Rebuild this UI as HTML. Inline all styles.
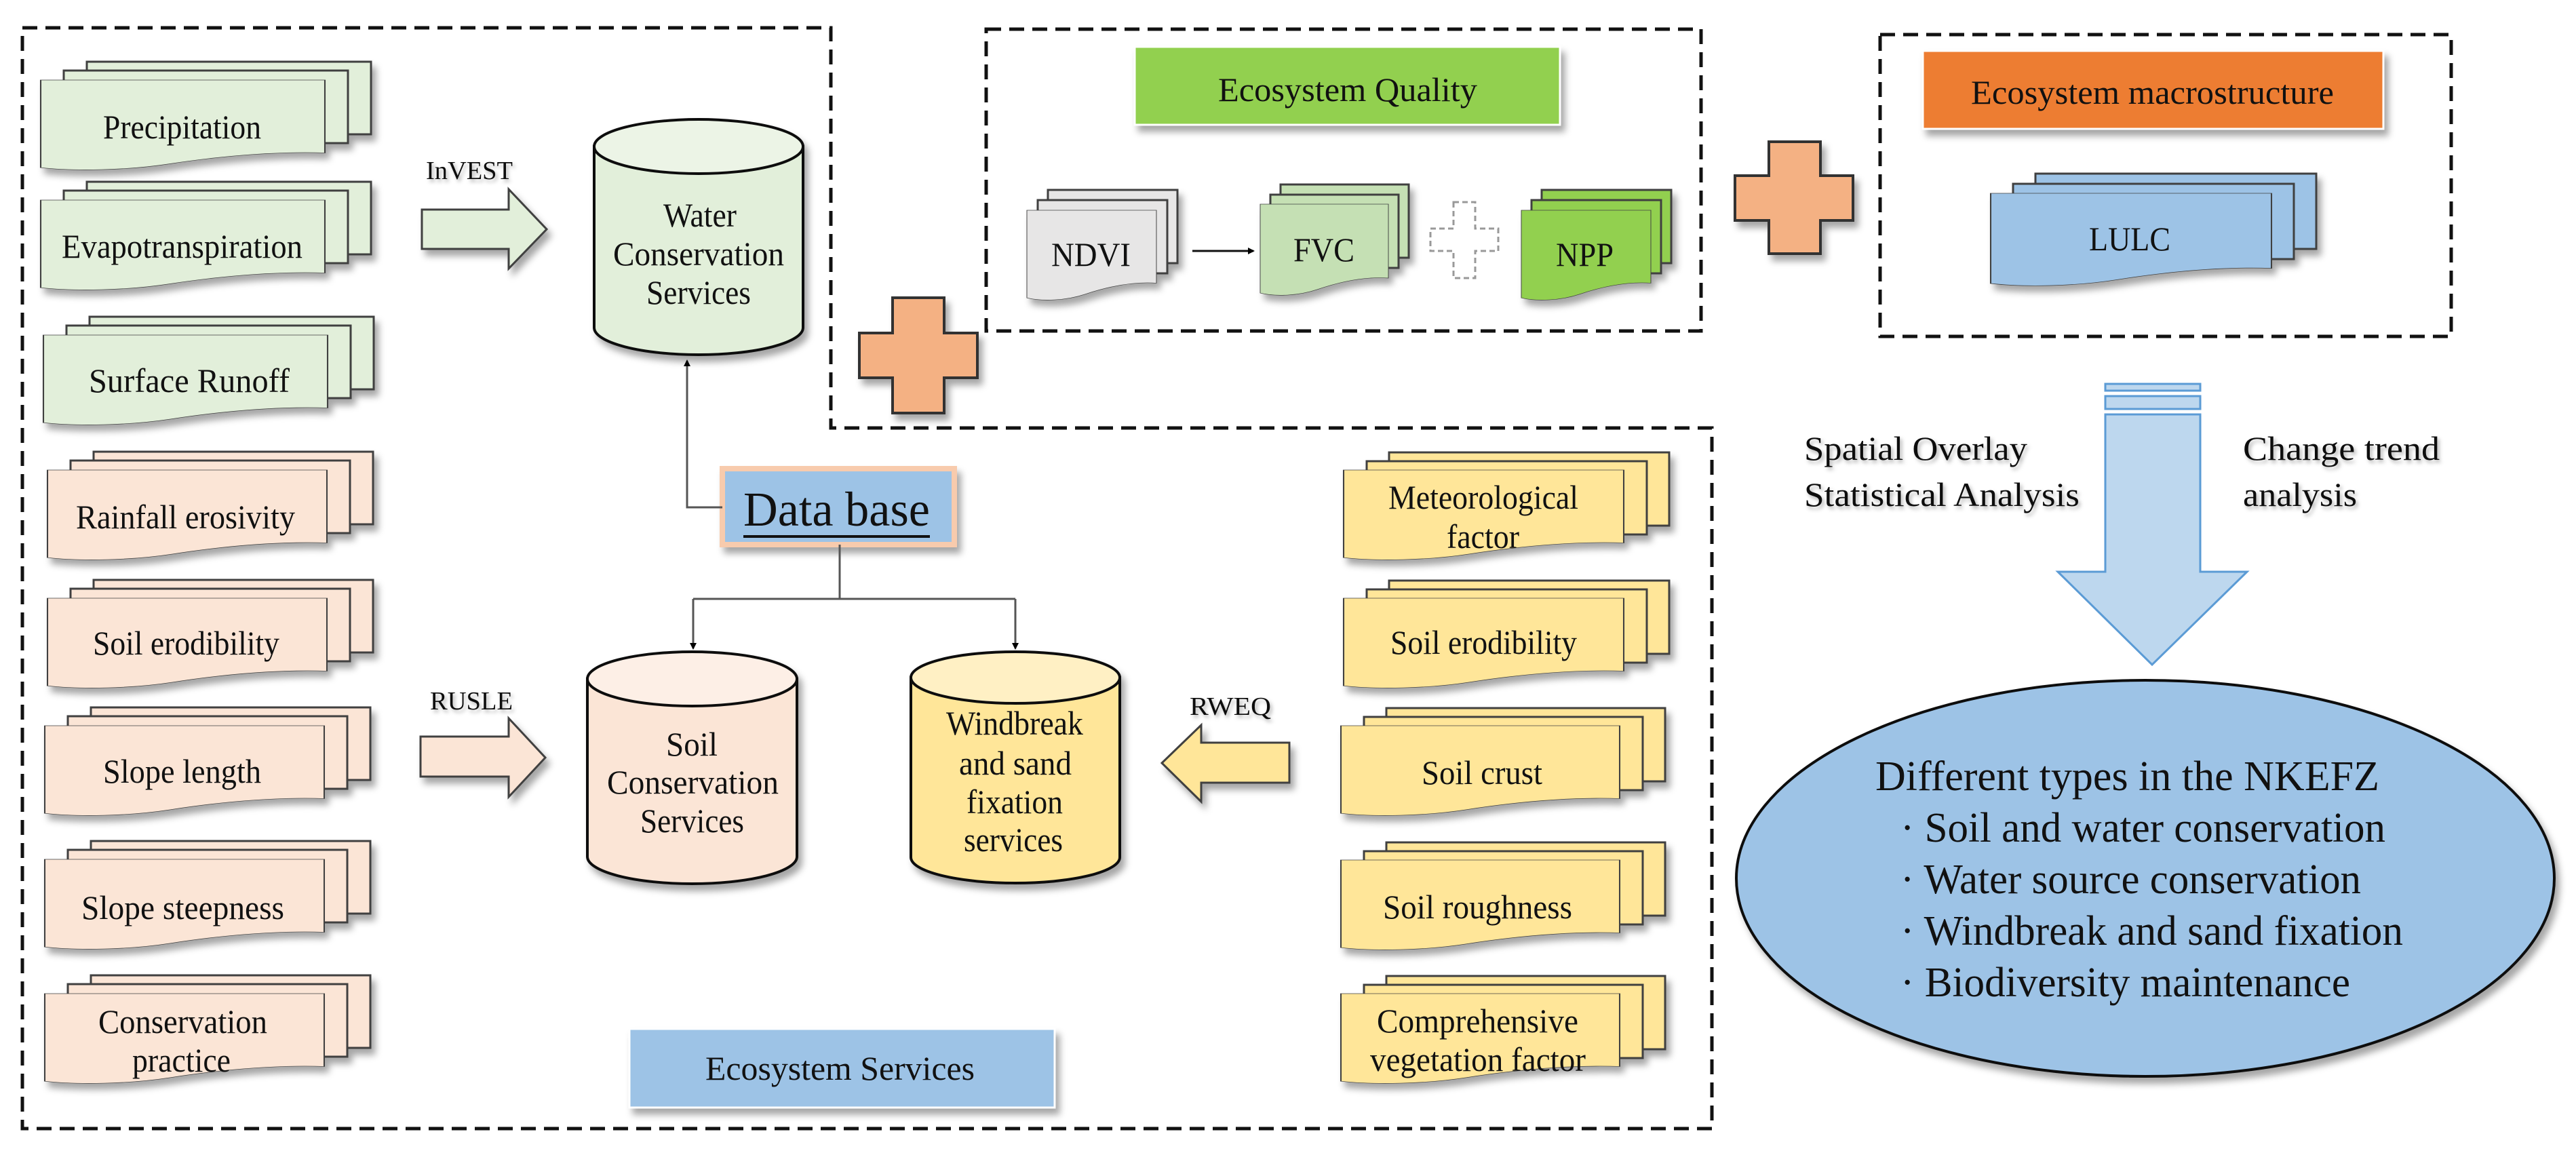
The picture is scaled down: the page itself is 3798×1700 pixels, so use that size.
<!DOCTYPE html>
<html><head><meta charset="utf-8"><style>
html,body{margin:0;padding:0;background:#fff}
svg{display:block}
text{font-family:"Liberation Serif","DejaVu Serif",serif;fill:#111}
</style></head><body>
<svg width="3798" height="1700" viewBox="0 0 3798 1700" xmlns="http://www.w3.org/2000/svg" font-family="'Liberation Serif','DejaVu Serif',serif">
<defs>
<filter id="sh" x="-10%" y="-10%" width="130%" height="140%"><feDropShadow dx="6" dy="9" stdDeviation="5" flood-color="#000" flood-opacity="0.35"/></filter>
<filter id="ts" x="-5%" y="-20%" width="115%" height="150%"><feDropShadow dx="3" dy="4" stdDeviation="3" flood-color="#000" flood-opacity="0.3"/></filter>
<marker id="ah" markerWidth="10" markerHeight="10" refX="8" refY="5" orient="auto" markerUnits="userSpaceOnUse" viewBox="0 0 10 10"><path d="M0,0 L10,5 L0,10 Z" fill="#000"/></marker>
<path id="doc" d="M0,0 H100 V79 C80,77 60,84 45,91 C30,98 12,99 0,95 Z"/>
</defs>

<g fill="none" stroke="#111" stroke-width="5" stroke-dasharray="22 12">
<path d="M33,41 H1225 V631 H2524 V1664 H33 Z"/>
<rect x="1454" y="43" width="1054" height="445"/>
<rect x="2772" y="51" width="842" height="445"/>
</g>

<g stroke="#404040" stroke-width="3" filter="url(#sh)">
<g fill="#e2efda">
<g transform="translate(60,118)"><rect x="68" y="-27" width="419" height="107"/><rect x="34" y="-14" width="419" height="107"/><use href="#doc" transform="scale(4.19,1.36)" stroke-width="0.5"/></g>
<g transform="translate(60,295)"><rect x="68" y="-27" width="419" height="107"/><rect x="34" y="-14" width="419" height="107"/><use href="#doc" transform="scale(4.19,1.36)" stroke-width="0.5"/></g>
<g transform="translate(64,494)"><rect x="68" y="-27" width="419" height="107"/><rect x="34" y="-14" width="419" height="107"/><use href="#doc" transform="scale(4.19,1.36)" stroke-width="0.5"/></g>
</g>
<g fill="#fbe5d6">
<g transform="translate(70,693)"><rect x="68" y="-27" width="412" height="107"/><rect x="34" y="-14" width="412" height="107"/><use href="#doc" transform="scale(4.12,1.36)" stroke-width="0.5"/></g>
<g transform="translate(70,882)"><rect x="68" y="-27" width="412" height="107"/><rect x="34" y="-14" width="412" height="107"/><use href="#doc" transform="scale(4.12,1.36)" stroke-width="0.5"/></g>
<g transform="translate(66,1070)"><rect x="68" y="-27" width="412" height="107"/><rect x="34" y="-14" width="412" height="107"/><use href="#doc" transform="scale(4.12,1.36)" stroke-width="0.5"/></g>
<g transform="translate(66,1267)"><rect x="68" y="-27" width="412" height="107"/><rect x="34" y="-14" width="412" height="107"/><use href="#doc" transform="scale(4.12,1.36)" stroke-width="0.5"/></g>
<g transform="translate(66,1465)"><rect x="68" y="-27" width="412" height="107"/><rect x="34" y="-14" width="412" height="107"/><use href="#doc" transform="scale(4.12,1.36)" stroke-width="0.5"/></g>
</g>
<g fill="#ffe699">
<g transform="translate(1981,693)"><rect x="67" y="-26" width="413" height="108"/><rect x="34" y="-13" width="413" height="108"/><use href="#doc" transform="scale(4.13,1.36)" stroke-width="0.5"/></g>
<g transform="translate(1981,882)"><rect x="67" y="-26" width="413" height="108"/><rect x="34" y="-13" width="413" height="108"/><use href="#doc" transform="scale(4.13,1.36)" stroke-width="0.5"/></g>
<g transform="translate(1977,1070)"><rect x="67" y="-26" width="411" height="108"/><rect x="34" y="-13" width="411" height="108"/><use href="#doc" transform="scale(4.11,1.36)" stroke-width="0.5"/></g>
<g transform="translate(1977,1268)"><rect x="67" y="-26" width="411" height="108"/><rect x="34" y="-13" width="411" height="108"/><use href="#doc" transform="scale(4.11,1.36)" stroke-width="0.5"/></g>
<g transform="translate(1977,1465)"><rect x="67" y="-26" width="411" height="108"/><rect x="34" y="-13" width="411" height="108"/><use href="#doc" transform="scale(4.11,1.36)" stroke-width="0.5"/></g>
</g>
<g transform="translate(1514,310)" fill="#e7e6e6"><rect x="31" y="-30" width="191" height="108"/><rect x="16" y="-15" width="191" height="108"/><use href="#doc" transform="scale(1.91,1.36)" stroke-width="0.5"/></g>
<g transform="translate(1858,301)" fill="#c5e0b4"><rect x="30" y="-29" width="189" height="108"/><rect x="15" y="-14" width="189" height="108"/><use href="#doc" transform="scale(1.89,1.38)" stroke-width="0.5"/></g>
<g transform="translate(2243,310)" fill="#92d050"><rect x="30" y="-30" width="191" height="108"/><rect x="15" y="-15" width="191" height="108"/><use href="#doc" transform="scale(1.91,1.36)" stroke-width="0.5"/></g>
<g transform="translate(2935,285)" fill="#9dc3e6"><rect x="66" y="-29" width="414" height="111"/><rect x="33" y="-14" width="414" height="111"/><use href="#doc" transform="scale(4.14,1.40)" stroke-width="0.5"/></g>
</g>

<g filter="url(#sh)">
<rect x="1673" y="69" width="627" height="115" fill="#92d050" stroke="#fff" stroke-width="3"/>
<rect x="2835" y="75" width="679" height="115" fill="#ed7d31" stroke="#fff" stroke-width="3"/>
<rect x="928" y="1517" width="627" height="116" fill="#9dc3e6" stroke="#fff" stroke-width="3"/>
<rect x="1065" y="691" width="342" height="112" fill="#9dc3e6" stroke="#f8cbad" stroke-width="8"/>
</g>

<g fill="#f4b183" stroke="#333" stroke-width="4" filter="url(#sh)">
<path d="M1316,439 H1392 V491 H1441 V557 H1392 V609 H1316 V557 H1267 V491 H1316 Z"/>
<path d="M2608,209 H2684 V259 H2732 V325 H2684 V374 H2608 V325 H2558 V259 H2608 Z"/>
</g>
<path d="M2143,298 H2175 V337 H2209 V370 H2175 V410 H2143 V370 H2109 V337 H2143 Z" fill="#fff" stroke="#999" stroke-width="3" stroke-dasharray="8 5"/>

<g stroke="#404040" stroke-width="3" filter="url(#sh)">
<polygon points="622,309 750,309 750,279 806,338 750,396 750,367 622,367" fill="#e2efda"/>
<polygon points="620,1086 750,1086 750,1059 804,1117 750,1175 750,1145 620,1145" fill="#fbe5d6"/>
<polygon points="1901,1095 1771,1095 1771,1069 1713,1125 1771,1182 1771,1154 1901,1154" fill="#ffe699"/>
</g>
<g fill="#bdd7ee" stroke="#5b9bd5" stroke-width="3">
<rect x="3104" y="566" width="140" height="10"/>
<rect x="3104" y="584" width="140" height="19"/>
<polygon points="3104,611 3244,611 3244,843 3313,843 3173,980 3034,843 3104,843"/>
</g>

<g stroke="#111" stroke-width="4" filter="url(#sh)">
<path d="M876,216 V483 A154,40 0 0 0 1184,483 V216 Z" fill="#e2efda"/>
<ellipse cx="1030" cy="216" rx="154" ry="40" fill="#ecf4e6"/>
<path d="M866,1001 V1263 A154.5,40 0 0 0 1175,1263 V1001 Z" fill="#fbe5d6"/>
<ellipse cx="1020.5" cy="1001" rx="154.5" ry="40" fill="#fdefe6"/>
<path d="M1343,999 V1264 A154,38 0 0 0 1651,1264 V999 Z" fill="#ffe699"/>
<ellipse cx="1497" cy="999" rx="154" ry="38" fill="#fff0c4"/>
</g>

<ellipse cx="3163" cy="1295" rx="603" ry="292" fill="#9dc3e6" stroke="#111" stroke-width="4" filter="url(#sh)"/>

<g fill="none" stroke="#555" stroke-width="3">
<path d="M1065,748 H1013 V532" marker-end="url(#ah)"/>
<path d="M1238,803 V883 M1022,883 H1497"/>
<path d="M1022,883 V956" marker-end="url(#ah)"/>
<path d="M1497,883 V956" marker-end="url(#ah)"/>
</g>
<path d="M1758,370 H1848" stroke="#111" stroke-width="3" marker-end="url(#ah)"/>

<g font-size="50" font-family="'Liberation Serif','DejaVu Serif',serif" dominant-baseline="central">
<text x="152" y="187" textLength="233" lengthAdjust="spacingAndGlyphs">Precipitation</text>
<text x="91" y="363" textLength="355" lengthAdjust="spacingAndGlyphs">Evapotranspiration</text>
<text x="131" y="561" textLength="296" lengthAdjust="spacingAndGlyphs">Surface Runoff</text>
<text x="112" y="762" textLength="323" lengthAdjust="spacingAndGlyphs">Rainfall erosivity</text>
<text x="137" y="948" textLength="275" lengthAdjust="spacingAndGlyphs">Soil erodibility</text>
<text x="152" y="1137" textLength="233" lengthAdjust="spacingAndGlyphs">Slope length</text>
<text x="120" y="1338" textLength="299" lengthAdjust="spacingAndGlyphs">Slope steepness</text>
<text x="145" y="1506" textLength="249" lengthAdjust="spacingAndGlyphs">Conservation</text>
<text x="195" y="1563" textLength="145" lengthAdjust="spacingAndGlyphs">practice</text>

<text x="978" y="317" textLength="108" lengthAdjust="spacingAndGlyphs">Water</text>
<text x="904" y="374" textLength="252" lengthAdjust="spacingAndGlyphs">Conservation</text>
<text x="953" y="431" textLength="154" lengthAdjust="spacingAndGlyphs">Services</text>
<text x="982" y="1097" textLength="76" lengthAdjust="spacingAndGlyphs">Soil</text>
<text x="895" y="1153" textLength="253" lengthAdjust="spacingAndGlyphs">Conservation</text>
<text x="944" y="1210" textLength="153" lengthAdjust="spacingAndGlyphs">Services</text>
<text x="1395" y="1066" textLength="202" lengthAdjust="spacingAndGlyphs">Windbreak</text>
<text x="1414" y="1125" textLength="166" lengthAdjust="spacingAndGlyphs">and sand</text>
<text x="1425" y="1182" textLength="142" lengthAdjust="spacingAndGlyphs">fixation</text>
<text x="1421" y="1238" textLength="146" lengthAdjust="spacingAndGlyphs">services</text>

<text x="2047" y="733" textLength="280" lengthAdjust="spacingAndGlyphs">Meteorological</text>
<text x="2133" y="791" textLength="107" lengthAdjust="spacingAndGlyphs">factor</text>
<text x="2050" y="947" textLength="275" lengthAdjust="spacingAndGlyphs">Soil erodibility</text>
<text x="2096" y="1139" textLength="178" lengthAdjust="spacingAndGlyphs">Soil crust</text>
<text x="2039" y="1337" textLength="279" lengthAdjust="spacingAndGlyphs">Soil roughness</text>
<text x="2030" y="1505" textLength="297" lengthAdjust="spacingAndGlyphs">Comprehensive</text>
<text x="2020" y="1562" textLength="318" lengthAdjust="spacingAndGlyphs">vegetation factor</text>

<text x="1040" y="1575" textLength="397" lengthAdjust="spacingAndGlyphs">Ecosystem Services</text>
<text x="1796" y="132" textLength="382" lengthAdjust="spacingAndGlyphs">Ecosystem Quality</text>
<text x="2906" y="136" textLength="535" lengthAdjust="spacingAndGlyphs">Ecosystem macrostructure</text>
<text x="1550" y="375" textLength="117" lengthAdjust="spacingAndGlyphs">NDVI</text>
<text x="1907" y="368" textLength="90" lengthAdjust="spacingAndGlyphs">FVC</text>
<text x="2294" y="375" textLength="85" lengthAdjust="spacingAndGlyphs">NPP</text>
<text x="3080" y="352" textLength="120" lengthAdjust="spacingAndGlyphs">LULC</text>

<text x="2660" y="661" textLength="329" lengthAdjust="spacingAndGlyphs" filter="url(#ts)">Spatial Overlay</text>
<text x="2660" y="729" textLength="406" lengthAdjust="spacingAndGlyphs" filter="url(#ts)">Statistical Analysis</text>
<text x="3307" y="661" textLength="290" lengthAdjust="spacingAndGlyphs" filter="url(#ts)">Change trend</text>
<text x="3307" y="729" textLength="168" lengthAdjust="spacingAndGlyphs" filter="url(#ts)">analysis</text>
</g>
<g font-size="38" font-family="'Liberation Serif','DejaVu Serif',serif" dominant-baseline="central">
<text x="628" y="252" textLength="128" lengthAdjust="spacingAndGlyphs" filter="url(#ts)">InVEST</text>
<text x="634" y="1034" textLength="122" lengthAdjust="spacingAndGlyphs" filter="url(#ts)">RUSLE</text>
<text x="1754" y="1042" textLength="120" lengthAdjust="spacingAndGlyphs" filter="url(#ts)">RWEQ</text>
</g>
<text x="1096" y="751" font-size="72" font-family="'Liberation Serif','DejaVu Serif',serif" dominant-baseline="central" textLength="275" lengthAdjust="spacingAndGlyphs">Data base</text>
<line x1="1096" y1="791" x2="1371" y2="791" stroke="#111" stroke-width="4"/>
<g font-size="62" font-family="'Liberation Serif','DejaVu Serif',serif" dominant-baseline="central">
<text x="2765" y="1145" textLength="743" lengthAdjust="spacingAndGlyphs">Different types in the NKEFZ</text>
<text x="2802" y="1221" textLength="715" lengthAdjust="spacingAndGlyphs">· Soil and water conservation</text>
<text x="2802" y="1297" textLength="679" lengthAdjust="spacingAndGlyphs">· Water source conservation</text>
<text x="2802" y="1373" textLength="741" lengthAdjust="spacingAndGlyphs">· Windbreak and sand fixation</text>
<text x="2802" y="1449" textLength="663" lengthAdjust="spacingAndGlyphs">· Biodiversity maintenance</text>
</g>
</svg>
</body></html>
